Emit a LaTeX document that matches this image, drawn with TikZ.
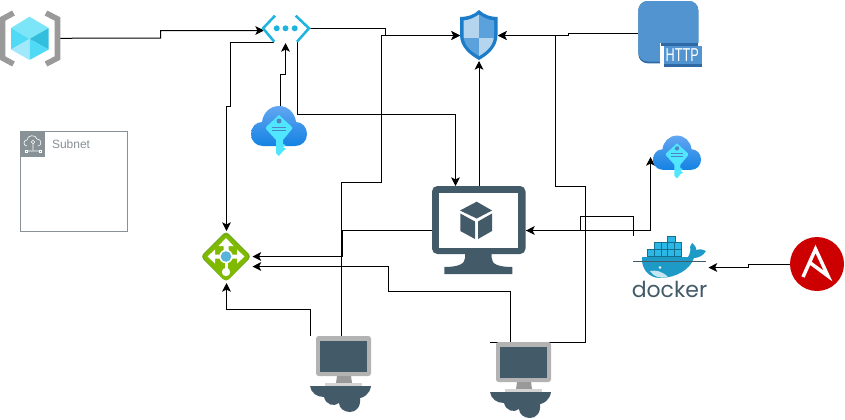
\documentclass[tikz,border=0pt]{standalone}
\usepackage{graphicx}
\usepackage{fontspec}
\setmainfont{Liberation Sans}
\newfontfamily\dockerfont{Poppins}
\usetikzlibrary{arrows.meta,calc,fit}
\definecolor{slate}{HTML}{435A69}
\definecolor{awsgray}{HTML}{879196}
\definecolor{brgray}{HTML}{9A9A9A}
\definecolor{cubeTop}{HTML}{7DE5F8}
\definecolor{cubeL}{HTML}{50DAF6}
\definecolor{cubeR}{HTML}{32BEDD}
\definecolor{cubeBL}{HTML}{A0E8FA}
\definecolor{vnetblue}{HTML}{1FB4E0}
\definecolor{shieldout}{HTML}{1C7CC8}
\definecolor{shieldlight}{HTML}{B5D5EF}
\definecolor{shieldmid}{HTML}{5BA1DC}
\definecolor{httpblue}{HTML}{5294CF}
\definecolor{httpdark}{HTML}{2F6AA6}
\definecolor{cloudtop}{HTML}{62A6F2}
\definecolor{cloudbot}{HTML}{1482E2}
\definecolor{keycyan}{HTML}{50E6FF}
\definecolor{gwgreen}{HTML}{7FBA00}
\definecolor{gwdark}{HTML}{6CAA1E}
\definecolor{gwblue}{HTML}{59B4D9}
\definecolor{ansred}{HTML}{CC0000}
\definecolor{dockblue}{HTML}{1D9BC6}
\definecolor{dockbox}{HTML}{2BB8E6}
\definecolor{dockedge}{HTML}{13708F}
\definecolor{pcbezel}{HTML}{B3B3B3}
\definecolor{pcneck}{HTML}{999999}
\definecolor{pcbase}{HTML}{D4D4D4}
\tikzset{
  slot/.style={inner sep=0pt,outer sep=0pt,draw=none},
  wire/.style={draw=black,line width=0.75pt},
  arrowwire/.style={wire,-{Stealth[length=6.5pt,width=6.5pt,inset=1.6pt]}},
  keycloud/.pic={
    \shade[top color=cloudtop,bottom color=cloudbot]
      (-16,15) .. controls (-23,15) and (-28,10) .. (-28,3)
      .. controls (-28,-4) and (-23,-9) .. (-17,-9)
      .. controls (-16,-18) and (-9,-25) .. (0,-25)
      .. controls (9,-25) and (16,-18) .. (17,-9)
      .. controls (23,-9) and (28,-4) .. (28,3)
      .. controls (28,10) and (23,15) .. (16,15) -- cycle;
    \fill[keycyan] (0,-16) -- (13,-4) -- (13,-2) -- (4,9) -- (4,13) -- (7,14) -- (4,16) -- (7,18) -- (4,20) -- (0,25) -- (-3,22) -- (-3,9) -- (-13,-2) -- (-13,-4) -- cycle;
    \fill[cloudtop!80!black] (0,-10) circle[radius=2.5];
    \draw[cloudtop!80!black,line width=0.6pt] (-7,-4) -- (7,-4) (-7,-1) -- (7,-1);
  },
  pcicon/.pic={
    \fill[pcbezel,rounded corners=2pt] (6,0) rectangle (61,40);
    \fill[slate] (10,5) rectangle (56.5,36);
    \fill[pcneck] (27,40) -- (41,40) -- (42,47) -- (26,47) -- cycle;
    \fill[pcbase] (15,47) rectangle (52,50);
    \fill[slate] (0,50) -- (61,50) .. controls (60,58) and (53,62) .. (50,62)
      .. controls (51,71) and (46,76) .. (40,76) .. controls (34,76) and (29,72) .. (29,67)
      .. controls (24,71) and (16,69) .. (14,61) .. controls (7,61) and (1,57) .. (0,50) -- cycle;
  }
}
\begin{document}
\begin{tikzpicture}[x=0.75pt,y=-0.75pt]
\useasboundingbox (0,0) rectangle (845,419);
\fill[white] (0,0) rectangle (845,419);
% anchors of the icons
\node[slot,fit={(0,10)(60,66.5)}] (image) {};
\node[slot,fit={(263,14)(310,43)}] (vnet) {};
\node[slot,fit={(460,10)(498,61)}] (shield) {};
\node[slot,fit={(638,0)(702,67)}] (http) {};
\node[slot,fit={(251,106)(307,156)}] (keyA) {};
\node[slot,fit={(653,136)(701,178)}] (keyB) {};
\node[slot,fit={(432,186)(526,275)}] (vm) {};
\node[slot,fit={(201,231)(251,282)}] (gateway) {};
\node[slot,fit={(633,236)(706,298)}] (docker) {};
\node[slot,fit={(790,237)(844,291)}] (ansible) {};
\node[slot,fit={(310,336)(371,412)}] (pcA) {};
\node[slot,fit={(490,342.5)(551,418)}] (pcB) {};
% connectors
\draw[arrowwire] (image.east) -- (160.5,38.2) -- (160.5,30.5) -- ($(vnet.west)+(1,2)$);
\draw[arrowwire] (274,42) -- (230.5,42) -- (230.5,106.5) -- (226.5,106.5) -- ($(gateway.north)+(0.5,0)$);
\draw[arrowwire] ($(keyA.north)+(1,0)$) -- (280,74.5) -- (285.5,74.5) -- ($(vnet.south)+(-1,0)$);
\draw[arrowwire] (297,42) -- (297,114.5) -- (455.5,114.5) -- (455.5,186);
\draw[arrowwire] (vnet.east) -- (385.5,28.5) -- (385.5,35.5) -- (shield.west);
\draw[arrowwire] ($(pcA.north)+(0.5,0)$) -- (341,182.5) -- (381.5,182.5) -- (381.5,35.5) -- (shield.west);
\draw[arrowwire] (vm.north) -- (shield.south);
\draw[arrowwire] (http.west) -- (568,33.5) -- (568,35.5) -- (shield.east);
\draw[arrowwire] (pcB.north west) -- (585.5,342.5) -- (585.5,186.5) -- (555.5,186.5) -- (555.5,35.5) -- (shield.east);
\draw[arrowwire] (510.5,342.5) -- (510.5,291.5) -- (388.5,291.5) -- (388.5,266.5) -- ($(gateway.east)+(1.5,10)$);
\draw[arrowwire] (vm.west) -- (342,230.5) -- (342,256.5) -- ($(gateway.east)+(1.5,0)$);
\draw[arrowwire] ($(pcA.north west)+(0.5,0)$) -- (310.5,309.5) -- (226.5,309.5) -- ($(gateway.south)+(0.5,1)$);
\draw[arrowwire] (docker.north west) -- (633,216.5) -- (580,216.5) -- (580,230.5) -- (vm.east);
\draw[arrowwire] (vm.east) -- (650.5,230.5) -- ($(keyB.west)+(-2.5,0)$);
\draw[arrowwire] (ansible.west) -- (748.5,264) -- (748.5,267.5) -- ($(docker.east)+(2.5,0.5)$);
% subnet
\node[slot,draw=awsgray,line width=0.75pt,fit={(20.5,131.5)(127.5,231.5)}] (subnet) {};
\fill[awsgray] (20.5,131.5) rectangle (45,156.5);
\begin{scope}[white,line width=0.45pt]
  \draw (27,146) .. controls (23,146) and (23,140) .. (27,140) .. controls (27,135) and (36,134) .. (37,139) .. controls (42,139) and (42,146) .. (38,146);
  \draw (33,142) circle[radius=1.8] (33,144) -- (33,150) (27,151) -- (39,151);
  \draw (25,150) rectangle (27,152) (39,150) rectangle (41,152);
\end{scope}
\node[slot,anchor=west,text=awsgray,font=\fontsize{9pt}{11pt}\selectfont] (subnetlabel) at (52,144.5) {Subnet};
% image icon
\draw[brgray,line width=4.2pt] (13.5,13) -- (2.5,19) -- (2.5,58) -- (13.5,64);
\draw[brgray,line width=4.2pt] (46,13) -- (57.5,19) -- (57.5,58) -- (46,64);
\fill[cubeTop] (29.5,16.7) -- (48.7,28) -- (29.5,39) -- (11,28) -- cycle;
\fill[cubeL] (11,28) -- (29.5,39) -- (11,49.5) -- cycle;
\fill[cubeR] (48.7,28) -- (29.5,39) -- (48.7,49.5) -- cycle;
\fill[cubeBL] (11,49.5) -- (29.5,39) -- (29.5,60) -- cycle;
\fill[cubeL] (48.7,49.5) -- (29.5,39) -- (29.5,60) -- cycle;
% vnet icon
\draw[vnetblue,line width=1.9pt] (275,15.7) -- (263,28.3) -- (274.3,41.7);
\draw[vnetblue,line width=1.9pt] (295.7,15.7) -- (309,28.3) -- (297,41.7);
\fill[vnetblue] (276.7,28.3) circle[radius=3] (285.5,28.3) circle[radius=3] (294.7,28.3) circle[radius=3];
% shield icon
\fill[shieldout] (479,10) .. controls (474,15) and (467,17) .. (460,17) -- (460,35) .. controls (460,47) and (470,55) .. (479,60) .. controls (488,55) and (497.5,47) .. (497.5,35) -- (497.5,17) .. controls (491,17) and (484,15) .. (479,10) -- cycle;
\begin{scope}
  \clip (479,14.5) .. controls (474,18) and (469,20) .. (463.5,20.5) -- (463.5,35) .. controls (463.5,45) and (471,51.5) .. (479,56) .. controls (487,51.5) and (494,45) .. (494,35) -- (494,20.5) .. controls (489,20) and (484,18) .. (479,14.5) -- cycle;
  \fill[shieldlight] (460,10) rectangle (479,38);
  \fill[shieldmid] (479,10) rectangle (498,38);
  \fill[shieldmid] (460,38) rectangle (479,61);
  \fill[shieldlight] (479,38) rectangle (498,61);
\end{scope}
% http icon
\fill[httpdark,rounded corners=7pt] (638.3,1) rectangle (698.3,63.3);
\fill[httpblue,rounded corners=7pt] (638.3,1) rectangle (698.3,61.5);
\fill[white] (660,43.3) rectangle (702,67);
\fill[httpdark] (660.5,43.3) rectangle (698.3,46);
\fill[httpblue] (663.5,46) rectangle (701.7,64);
\fill[httpdark] (663.5,64) rectangle (701.7,66.7);
\node[slot,text=white,font=\fontsize{14pt}{14pt}\selectfont] (httplabel) at (682.3,55) {\scalebox{0.68}[1]{HTTP}};
% key clouds
\pic at (279,131) {keycloud};
\pic[scale=0.857] at (677,157) {keycloud};
% vm icon
\fill[slate,rounded corners=4pt] (432,186) rectangle (525.5,254);
\fill[white] (439,193.3) rectangle (518.3,247.7);
\fill[slate] (465,252) -- (465,258) .. controls (465,264) and (458,267) .. (444.3,267) -- (444.3,274) -- (512.3,274) -- (512.3,267) .. controls (498,267) and (491.7,264) .. (491.7,258) -- (491.7,252) -- cycle;
\fill[slate] (476.7,201.7) -- (492,210.5) -- (476.7,218.5) -- (460,210.5) -- cycle;
\fill[slate] (460.3,213.5) -- (475,221.5) -- (475,239) -- (460.3,231) -- cycle;
\fill[slate] (492,213.5) -- (478,221.5) -- (478,239) -- (492,231) -- cycle;
% gateway icon
\fill[gwdark,rounded corners=3pt] (226,231) -- (251.5,256.5) -- (226,282) -- (200.5,256.5) -- cycle;
\fill[gwgreen,rounded corners=3pt] (226,233) -- (250,256.5) -- (226,282) -- (202,256.5) -- cycle;
\fill[white] (226,238) -- (233.5,246) -- (228.5,246) -- (228.5,256) -- (223.5,256) -- (223.5,246) -- (218.5,246) -- cycle;
\fill[white] (207.5,256.5) -- (215,249.5) -- (215,254.5) -- (237,254.5) -- (237,249.5) -- (244.5,256.5) -- (237,263.5) -- (237,258.5) -- (215,258.5) -- (215,263.5) -- cycle;
\fill[white] (224.5,257) rectangle (227.5,270);
\fill[white] (226,272) circle[radius=4.2];
\fill[white] (226,256.5) circle[radius=6.8];
\fill[gwblue] (226,256.5) circle[radius=5.3];
% docker icon
\begin{scope}[draw=dockedge,fill=dockbox,line width=0.5pt]
  \filldraw (667.3,236.7) rectangle (675,242.7);
  \foreach \bx in {654,661,667.3,674.3} {\filldraw (\bx,242.7) rectangle ++(7,6.3);}
  \foreach \bx in {647,654,661,667.3,674.3} {\filldraw (\bx,249) rectangle ++(7,7);}
\end{scope}
\fill[dockblue] (642,257) -- (688,257) .. controls (690,254) and (691,250) .. (690,247) -- (692,243) .. controls (695,245) and (697,249) .. (696,250) .. controls (700,249) and (703,249) .. (706,251) .. controls (703,256) and (698,258) .. (694,258) .. controls (690,270) and (675,278) .. (660,278) .. controls (648,278) and (641,268) .. (642,257) -- cycle;
\fill[white!75!dockblue] (650,271) .. controls (656,270) and (662,271) .. (668,277) .. controls (660,279) and (654,277) .. (650,271) -- cycle;
\fill[white] (660,267.5) circle[radius=1.4];
\draw[slate,line width=0.5pt] (633,261) -- (706,261);
\node[slot,text=slate,font=\dockerfont\fontsize{16.5pt}{16.5pt}\selectfont,anchor=base] (dockerlabel) at (669.5,297.5) {docker};
% ansible icon
\fill[ansred] (817,264) circle[radius=27];
\draw[white,line width=2.6pt,miter limit=10] (803,277) -- (815.5,249) -- (828,276) -- (809,262);
% desktops
\pic at (310,336) {pcicon};
\pic at (490,342) {pcicon};
\end{tikzpicture}
\end{document}
